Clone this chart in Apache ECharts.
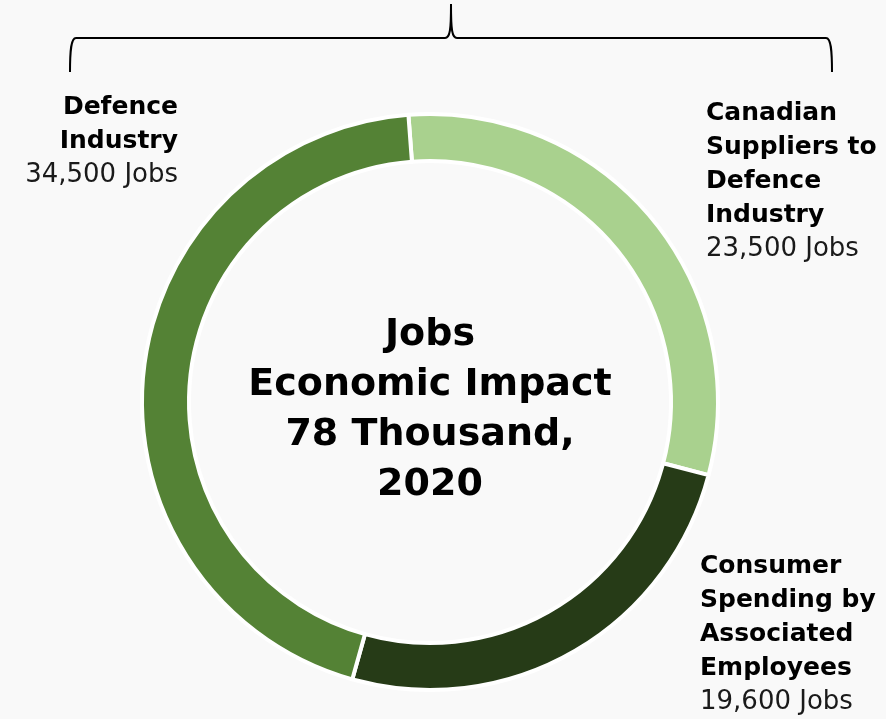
<!DOCTYPE html>
<html>
<head>
<meta charset="utf-8">
<script src="https://cdn.jsdelivr.net/npm/echarts@6/dist/echarts.min.js"></script>
<style>
html,body{margin:0;padding:0;background:#f9f9f9;}
#main{width:886px;height:719px;}
</style>
</head>
<body>
<div id="main"></div>
<script>
const categories = ["Canadian\nSuppliers to\nDefence\nIndustry", "Consumer\nSpending by\nAssociated\nEmployees", "Defence\nIndustry"];
const jobs = [23500, 19600, 34500];
const colors = ["#a9d18e", "#263b17", "#548235"];
const centerLines = ["Jobs", "Economic Impact", "78 Thousand,", "2020"];

const FONT = "DejaVu Sans";
const labelPos = [
  {x: 706, y: 96, align: 'left'},
  {x: 700, y: 549, align: 'left'},
  {x: 178, y: 90, align: 'right'}
];

const bracketStyle = {stroke: '#000', lineWidth: 2, fill: 'none'};
const curve = (x1, y1, cpx1, cpy1, cpx2, cpy2, x2, y2) => ({
  type: 'bezierCurve', shape: {x1, y1, cpx1, cpy1, cpx2, cpy2, x2, y2}, style: bracketStyle
});
const seg = (x1, y1, x2, y2) => ({type: 'line', shape: {x1, y1, x2, y2}, style: bracketStyle});

const chart = echarts.init(document.getElementById('main'), null, {renderer: 'canvas'});
chart.setOption({
  backgroundColor: '#f9f9f9',
  animation: false,
  series: [{
    type: 'pie',
    center: [430, 402],
    radius: [241, 288],
    startAngle: 94.3,
    clockwise: true,
    avoidLabelOverlap: false,
    itemStyle: {borderColor: '#ffffff', borderWidth: 4},
    label: {
      show: true,
      position: 'outside',
      formatter: p => '{b|' + p.name + '}\n{v|' + p.value.toLocaleString('en-US') + ' Jobs}',
      rich: {
        b: {fontFamily: FONT, fontWeight: 'bold', fontSize: 25, lineHeight: 34, color: '#000'},
        v: {fontFamily: FONT, fontSize: 26, lineHeight: 34, color: '#1a1a1a'}
      }
    },
    labelLine: {show: false},
    labelLayout: params => {
      const p = labelPos[params.dataIndex];
      return {x: p.x, y: p.y, align: p.align, verticalAlign: 'top'};
    },
    data: categories.map((c, i) => ({name: c, value: jobs[i], itemStyle: {color: colors[i]}}))
  }],
  graphic: [
    curve(70, 72, 70, 50, 71, 38, 76, 38),
    seg(76, 38, 445, 38),
    curve(445, 38, 450, 38, 451, 30, 451, 4),
    curve(451, 4, 451, 30, 452, 38, 457, 38),
    seg(457, 38, 826, 38),
    curve(826, 38, 831, 38, 832, 50, 832, 72),
    {
      type: 'text',
      x: 430, y: 410,
      style: {
        text: centerLines.join('\n'),
        font: 'bold 38px "' + FONT + '"',
        lineHeight: 50,
        align: 'center',
        verticalAlign: 'middle',
        fill: '#000'
      }
    }
  ]
});
</script>
</body>
</html>
